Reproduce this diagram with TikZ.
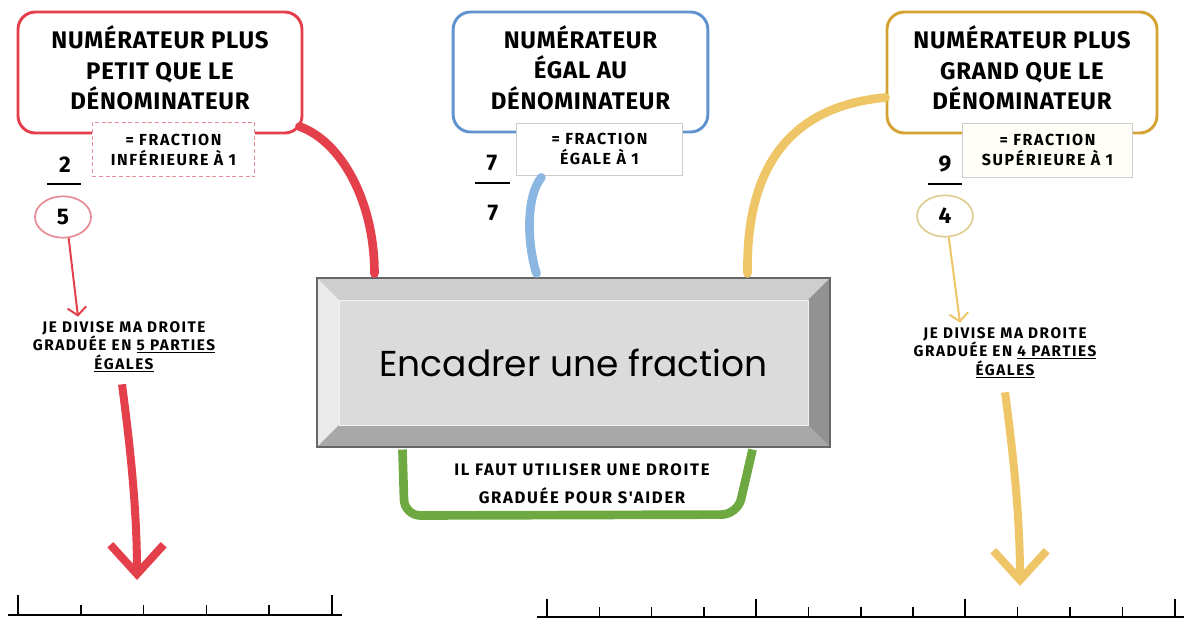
\documentclass[tikz,border=0pt]{standalone}
\usepackage{fontspec}
\setmainfont{Fira Sans}
\newfontfamily\blockfont{Poppins}
\newfontfamily\widefont[LetterSpace=10]{Fira Sans}
\newfontfamily\slightfont[LetterSpace=3]{Fira Sans}
\usetikzlibrary{arrows.meta,positioning,calc,shapes.geometric}
\definecolor{redink}{RGB}{228,64,76}
\definecolor{redsoft}{RGB}{232,140,150}
\definecolor{blueink}{RGB}{96,146,206}
\definecolor{bluesoft}{RGB}{140,182,226}
\definecolor{goldink}{RGB}{212,162,50}
\definecolor{goldsoft}{RGB}{238,198,104}
\definecolor{goldpale}{RGB}{222,206,146}
\definecolor{greenink}{RGB}{110,168,64}
\definecolor{subline}{RGB}{205,205,205}
\definecolor{bevface}{RGB}{219,219,219}
\definecolor{bevtop}{RGB}{206,206,206}
\definecolor{bevleft}{RGB}{234,234,234}
\definecolor{bevbottom}{RGB}{168,168,168}
\definecolor{bevright}{RGB}{146,146,146}
\tikzset{
	casebox/.style={draw=#1, line width=2.2pt, rounded corners=13pt, fill=white, align=center, inner sep=0pt, font=\slightfont\bfseries\fontsize{18}{23}\selectfont},
	subbox/.style={draw=#1, line width=0.6pt, fill=white, align=center, inner sep=0pt, font=\widefont\bfseries\fontsize{12}{15}\selectfont},
	fracnum/.style={inner sep=0pt, font=\bfseries\fontsize{17}{17}\selectfont},
	fracden/.style={ellipse, draw=#1, line width=1.3pt, fill=white, minimum width=42pt, minimum height=31pt, inner sep=0pt, font=\bfseries\fontsize{17}{17}\selectfont},
	fracbar/.style={line width=2.2pt},
	note/.style={align=center, inner sep=0pt, font=\widefont\bfseries\fontsize{11.5}{13}\selectfont},
	thinarrow/.style={line width=1.5pt, -{Straight Barb[length=6pt,width=14pt]}},
	bigarrow/.style={line width=6pt, -{Straight Barb[length=22pt,width=40pt]}},
	brush/.style={line width=6.5pt, line cap=round},
	axis/.style={line width=2pt},
	bevelblock/.style={draw=gray!80!black, line width=0.8pt, fill=bevface, minimum width=384.75pt, minimum height=126.75pt, inner sep=0pt, font=\blockfont\fontsize{27}{30}\selectfont,
		path picture={
			\coordinate (pnw) at (path picture bounding box.north west);
			\coordinate (pne) at (path picture bounding box.north east);
			\coordinate (psw) at (path picture bounding box.south west);
			\coordinate (pse) at (path picture bounding box.south east);
			\fill[bevtop] (pnw) -- (pne) -- ($(pne)+(-22,22)$) -- ($(pnw)+(22,22)$) -- cycle;
			\fill[bevleft] (pnw) -- ($(pnw)+(22,22)$) -- ($(psw)+(22,-22)$) -- (psw) -- cycle;
			\fill[bevbottom] (psw) -- ($(psw)+(22,-22)$) -- ($(pse)+(-22,-22)$) -- (pse) -- cycle;
			\fill[bevright] (pne) -- (pse) -- ($(pse)+(-22,-22)$) -- ($(pne)+(-22,22)$) -- cycle;
			\draw[white!60!bevface, line width=0.6pt] ($(pnw)+(22,22)$) rectangle ($(pse)+(-22,-22)$);
		}}
}

\begin{document}
\begin{tikzpicture}[x=0.75pt, y=-0.75pt]
	\useasboundingbox (0,0) rectangle (1184,626);

	% the three cases
	\node[casebox=redink, minimum width=213pt, minimum height=90.75pt] (redbox) at (160,72.5) {NUMÉRATEUR PLUS\\PETIT QUE LE\\DÉNOMINATEUR\rule[-7pt]{0pt}{0pt}};
	\node[casebox=blueink, minimum width=191pt, minimum height=90pt] (bluebox) at (580.5,72) {NUMÉRATEUR\\ÉGAL AU\\DÉNOMINATEUR\rule[-7pt]{0pt}{0pt}};
	\node[casebox=goldink, minimum width=202.5pt, minimum height=90.75pt] (goldbox) at (1022,72.5) {NUMÉRATEUR PLUS\\GRAND QUE LE\\DÉNOMINATEUR\rule[-7pt]{0pt}{0pt}};

	\node[subbox=redsoft, densely dashed, minimum width=122pt, minimum height=41pt] (redsub) at (173.5,149.5) {= FRACTION\\INFÉRIEURE À 1};
	\node[subbox=subline, minimum width=124pt, minimum height=39pt] (bluesub) at (599.5,149) {= FRACTION\\ÉGALE À 1};
	\node[subbox=subline, fill=yellow!3, minimum width=127pt, minimum height=40.5pt] (goldsub) at (1047.5,150) {= FRACTION\\SUPÉRIEURE À 1};

	% fractions
	\node[fracnum] (rednum) at (65,165) {2};
	\draw[fracbar] (47,184) -- (81,184);
	\node[fracden=redsoft] (redden) at (63,217) {5};
	\node[fracnum] (bluenum) at (492,163) {7};
	\draw[fracbar] (475,183) -- (510,183);
	\node[fracnum] (blueden) at (493,213) {7};
	\node[fracnum] (goldnum) at (945,164) {9};
	\draw[fracbar] (928,184) -- (962,184);
	\node[fracden=goldpale] (goldden) at (945,216) {4};

	% central block
	\node[bevelblock] (block) at (573.5,362.5) {Encadrer une fraction};

	% brush strokes to the block
	\draw[brush, redink] ($(redbox.south east)+(-4,-8)$) .. controls +(42,15) and +(0,-72) .. ($(block.north west)+(58,-4)$);
	\draw[brush, bluesoft] ($(bluesub.south west)+(25,2)$) .. controls +(-15,18) and +(-10,-32) .. ($(block.north west)+(220,-4)$);
	\draw[brush, goldsoft] ($(goldbox.west)+(0,25)$) .. controls +(-87,8) and +(-2,-116) .. ($(block.north east)+(-83,-4)$);
	\draw[brush, greenink, line cap=butt, rounded corners=12pt] ($(block.south west)+(86,2)$) -- ($(block.south west)+(88,68)$) -- ($(block.south east)+(-93,67)$) -- ($(block.south east)+(-78,2)$);
	\node[note, font=\widefont\bfseries\fontsize{12.5}{21}\selectfont] (greennote) at (582,484) {IL FAUT UTILISER UNE DROITE\\GRADUÉE POUR S'AIDER};

	% notes and arrows down to the lines
	\node[note] (rednote) at (124,347) {JE DIVISE MA DROITE\\GRADUÉE EN \underline{5 PARTIES}\\\underline{ÉGALES}};
	\node[note] (goldnote) at (1005,353) {JE DIVISE MA DROITE\\GRADUÉE EN \underline{4 PARTIES}\\\underline{ÉGALES}};
	\draw[thinarrow, redink] (redden.-75) -- ($(rednote.north)+(-46,-5)$);
	\draw[thinarrow, goldsoft] (goldden.-80) -- ($(goldnote.north)+(-45,-5)$);

	\coordinate (redtip) at (137,580);
	\coordinate (goldtip) at (1020,586);
	\draw[bigarrow, redink] ($(rednote.south)+(-2,12)$) .. controls +(8,60) and +(0,-70) .. (redtip);
	\draw[bigarrow, goldsoft] ($(goldnote.south)+(0,14)$) .. controls +(8,60) and +(0,-70) .. (goldtip);

	% number lines
	\coordinate (redaxis) at (8,615);
	\coordinate (goldaxis) at (537,617);
	\draw[axis] (redaxis) -- ++(334,0);
	\foreach \k in {0,...,5} {
		\draw[line width=1.2pt] ($(redaxis)+(10+62.8*\k,0)$) -- ++(0,-10);
	}
	\draw[line width=1.4pt] ($(redaxis)+(10,0)$) -- ++(0,-20);
	\draw[line width=1.4pt] ($(redaxis)+(324,0)$) -- ++(0,-20);
	\draw[axis] (goldaxis) -- ++(647,0);
	\foreach \k in {0,...,12} {
		\draw[line width=1.1pt] ($(goldaxis)+(10+52.3*\k,0)$) -- ++(0,-10);
	}
	\foreach \k in {0,4,8,12} {
		\draw[line width=1.4pt] ($(goldaxis)+(10+52.3*\k,0)$) -- ++(0,-18);
	}
\end{tikzpicture}
\end{document}
